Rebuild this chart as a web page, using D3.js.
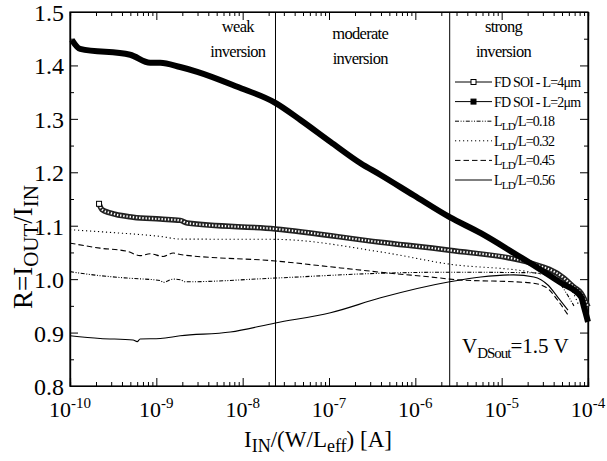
<!DOCTYPE html>
<html><head><meta charset="utf-8">
<script src="https://cdn.jsdelivr.net/npm/d3@7"></script>
<style>
body{margin:0;background:#fff}
svg{display:block}
text{font-family:"Liberation Serif","Times New Roman",serif;fill:#000}
</style>
</head><body>
<svg id="c" width="607" height="461"></svg>
<script>
// ---- data ----
const decadeTicks = [1e-10,1e-9,1e-8,1e-7,1e-6,1e-5,1e-4];
const decadeExps = ["-10","-9","-8","-7","-6","-5","-4"];
const yTicks = [0.8,0.9,1.0,1.1,1.2,1.3,1.4,1.5];
const yTickLabels = ["0.8","0.9","1.0","1.1","1.2","1.3","1.4","1.5"];
const regionBounds = [2.4e-8, 2.5e-6];
const regionNames = [["weak","inversion"],["moderate","inversion"],["strong","inversion"]];
const regionLabelX = [8.8e-9, 2.3e-7, 1.05e-5];

// FD SOI L=2um (filled squares)
const iL2 = [1.05e-10,1.31e-10,4.97e-10,8.48e-10,1.11e-9,1.89e-9,2.98e-9,8.67e-9,2.39e-8,4.67e-8,1.04e-7,2.32e-7,3.96e-7,9.57e-7,2.5e-6,5.73e-6,1.38e-5,2.63e-5,4.86e-5,8.3e-5,8.98e-5,1e-4];
const rL2 = [1.448,1.431,1.420,1.405,1.405,1.397,1.388,1.360,1.330,1.298,1.257,1.217,1.195,1.157,1.116,1.086,1.049,1.021,0.993,0.967,0.948,0.920];
// FD SOI L=4um (open squares)
const iL4 = [2.17e-10,2.35e-10,2.91e-10,5.38e-10,1.11e-9,1.89e-9,2.28e-9,2.39e-8,3.96e-7,2.5e-6,2.18e-5,5.26e-5,6.87e-5,8.3e-5,1e-4];
const rL4 = [1.141,1.130,1.124,1.116,1.1125,1.110,1.105,1.094,1.069,1.054,1.030,1.002,0.985,0.974,0.948];
// LLD/L = 0.18 (dash-dot-dot)
const i018 = [1e-10,1.85e-10,4.59e-10,1.11e-9,1.2e-9,1.57e-9,1.89e-9,2.16e-9,2.39e-8,3.96e-7,2.5e-6,2.18e-5,4.25e-5,5.55e-5,6.87e-5];
const r018 = [1.014,1.008,1.002,0.9975,0.994,1.0,0.999,0.995,1.002,1.011,1.013,1.012,1.0,0.975,0.95];
// LLD/L = 0.32 (dotted)
const i032 = [1e-10,2.91e-10,7.03e-10,1.11e-9,1.89e-9,2.39e-8,3.96e-7,2.5e-6,2.18e-5,4.86e-5,6.7e-5,7.86e-5];
const r032 = [1.0925,1.0875,1.083,1.080,1.075,1.0745,1.051,1.028,1.013,1.0,0.975,0.95];
// LLD/L = 0.45 (dashed)
const i045 = [1e-10,2.23e-10,4.59e-10,6.49e-10,8.48e-10,1.2e-9,1.57e-9,1.89e-9,2.39e-8,1.36e-7,5.17e-7,1.97e-6,2.5e-6,2.18e-5,3.25e-5,4.48e-5,5.86e-5];
const r045 = [1.0675,1.058,1.052,1.044,1.0475,1.0425,1.049,1.046,1.034,1.021,1.011,1.002,1.0,0.993,0.985,0.96,0.933];
// LLD/L = 0.56 (solid)
const i056 = [1e-10,2.23e-10,5.38e-10,6.0e-10,6.49e-10,1.11e-9,1.89e-9,7.19e-9,2.39e-8,1.04e-7,3.96e-7,2.5e-6,5.73e-6,1.38e-5,2.36e-5,3.43e-5,4.48e-5,5.86e-5];
const r056 = [0.894,0.889,0.886,0.883,0.888,0.889,0.894,0.901,0.918,0.937,0.965,0.995,1.004,1.008,1.004,0.989,0.966,0.942];

const legendLabels = ["FD SOI - L=4\u03bcm","FD SOI - L=2\u03bcm","0.18","0.32","0.45","0.56"];

// ---- drawing ----
const L = 70, R = 588, T = 12, B = 386;
const svg = d3.select("#c");
const x = d3.scaleLog().domain([1e-10,1e-4]).range([L,R]);
const y = d3.scaleLinear().domain([0.8,1.5]).range([B,T]);

const minorX = [];
for (let e = -10; e < -4; e++) for (let m = 2; m <= 9; m++) minorX.push(m*Math.pow(10,e));
const minorY = d3.range(0.85,1.5,0.1);

// axes (ticks inward)
const gAx = svg.append("g");
gAx.append("g").attr("transform",`translate(0,${B})`)
  .call(d3.axisBottom(x).tickValues(decadeTicks).tickSize(-8).tickFormat(""));
gAx.append("g").attr("transform",`translate(0,${B})`)
  .call(d3.axisBottom(x).tickValues(minorX).tickSize(-4).tickFormat(""));
gAx.append("g").attr("transform",`translate(0,${T})`)
  .call(d3.axisTop(x).tickValues(decadeTicks).tickSize(-8).tickFormat(""));
gAx.append("g").attr("transform",`translate(0,${T})`)
  .call(d3.axisTop(x).tickValues(minorX).tickSize(-4).tickFormat(""));
gAx.append("g").attr("transform",`translate(${L},0)`)
  .call(d3.axisLeft(y).tickValues(yTicks).tickSize(-8).tickFormat(""));
gAx.append("g").attr("transform",`translate(${L},0)`)
  .call(d3.axisLeft(y).tickValues(minorY).tickSize(-4).tickFormat(""));
gAx.append("g").attr("transform",`translate(${R},0)`)
  .call(d3.axisRight(y).tickValues(yTicks).tickSize(-8).tickFormat(""));
gAx.append("g").attr("transform",`translate(${R},0)`)
  .call(d3.axisRight(y).tickValues(minorY).tickSize(-4).tickFormat(""));
svg.selectAll(".domain").attr("stroke","#000").attr("stroke-width",1.2);
svg.selectAll(".tick line").attr("stroke","#000");
svg.append("rect").attr("x",L).attr("y",T).attr("width",R-L).attr("height",B-T)
  .attr("fill","none").attr("stroke","#000").attr("stroke-width",1.2);

// y tick labels
svg.append("g").selectAll("text").data(yTicks).join("text")
  .attr("x",L-6).attr("y",d=>y(d)+9).attr("text-anchor","end")
  .attr("font-size",24).text((d,i)=>yTickLabels[i]);

// x tick labels
const xl = svg.append("g").selectAll("text").data(decadeTicks).join("text")
  .attr("x",d=>x(d)).attr("y",417).attr("text-anchor","middle").attr("font-size",22);
xl.append("tspan").text("10");
xl.append("tspan").attr("dy",-9).attr("font-size",15).text((d,i)=>decadeExps[i]);

// axis titles
const xt = svg.append("text").attr("x",318).attr("y",447).attr("text-anchor","middle").attr("font-size",23);
xt.append("tspan").text("I");
xt.append("tspan").attr("dy",5).attr("font-size",18).text("IN");
xt.append("tspan").attr("dy",-5).text("/(W/L");
xt.append("tspan").attr("dy",5).attr("font-size",18).text("eff");
xt.append("tspan").attr("dy",-5).text(") [A]");

const yt = svg.append("text").attr("transform","translate(32,247) rotate(-90)")
  .attr("text-anchor","middle").attr("font-size",27);
yt.append("tspan").text("R=I");
yt.append("tspan").attr("dy",6).attr("font-size",21).text("OUT");
yt.append("tspan").attr("dy",-6).text("/I");
yt.append("tspan").attr("dy",6).attr("font-size",21).text("IN");

// region boundaries
svg.append("g").selectAll("line").data(regionBounds).join("line")
  .attr("x1",d=>x(d)).attr("x2",d=>x(d)).attr("y1",T).attr("y2",B)
  .attr("stroke","#000").attr("stroke-width",1);

// region labels
const regionY = [[32,57],[39,64],[32,57]];
regionNames.forEach((nm,i)=>{
  nm.forEach((s,j)=>{
    svg.append("text").attr("x",x(regionLabelX[i])).attr("y",regionY[i][j])
      .attr("text-anchor","middle").attr("font-size",16.5).attr("letter-spacing",-0.7).text(s);
  });
});

// series
const line = d3.line().x(d=>x(d[0])).y(d=>y(d[1])).curve(d3.curveMonotoneX);
const zip = (a,b)=>a.map((v,i)=>[v,b[i]]);
const thin = [
  {i:i018, r:r018, dash:"4,1.6,1,1.6,1,1.6"},
  {i:i032, r:r032, dash:"1.2,2.8"},
  {i:i045, r:r045, dash:"5.5,3"},
  {i:i056, r:r056, dash:null}
];
const gS = svg.append("g");
thin.forEach(s=>{
  gS.append("path").attr("d",line(zip(s.i,s.r))).attr("fill","none")
    .attr("stroke","#000").attr("stroke-width",1.1)
    .attr("stroke-dasharray",s.dash);
});
// L=4um open squares band
const p4 = line(zip(iL4,rL4));
gS.append("path").attr("d",p4).attr("fill","none").attr("stroke","#222").attr("stroke-width",5.5);
gS.append("path").attr("d",p4).attr("fill","none").attr("stroke","#fff").attr("stroke-width",2.2)
  .attr("stroke-dasharray","1.4,1.8");
gS.append("rect").attr("x",x(iL4[0])-2.5).attr("y",y(rL4[0])-2.5).attr("width",5).attr("height",5)
  .attr("fill","#fff").attr("stroke","#000").attr("stroke-width",1);
// L=2um filled squares
gS.append("path").attr("d",line(zip(iL2,rL2))).attr("fill","none").attr("stroke","#000").attr("stroke-width",6);

// legend
const lg = svg.append("g");
const ly0 = 82, ldy = 19.6, lx1 = 455, lx2 = 492;
const lDash = [null,null,"4,1.6,1,1.6,1,1.6","1.2,2.8","5.5,3",null];
legendLabels.forEach((lab,k)=>{
  const yy = ly0 + k*ldy;
  lg.append("line").attr("x1",lx1).attr("x2",lx2).attr("y1",yy).attr("y2",yy)
    .attr("stroke","#000").attr("stroke-width",1).attr("stroke-dasharray",lDash[k]);
  if (k<2) lg.append("rect").attr("x",(lx1+lx2)/2-2.5).attr("y",yy-2.5).attr("width",5).attr("height",5)
    .attr("fill",k===0?"#fff":"#000").attr("stroke","#000");
  const t = lg.append("text").attr("x",lx2+2).attr("y",yy+5).attr("font-size",14).attr("letter-spacing",-0.8);
  if (k<2) t.text(lab);
  else {
    t.append("tspan").text("L");
    t.append("tspan").attr("dy",4).attr("font-size",11).text("LD");
    t.append("tspan").attr("dy",-4).text("/L="+lab);
  }
});

// V_DSout annotation
const va = svg.append("text").attr("x",462).attr("y",353).attr("font-size",21);
va.append("tspan").text("V");
va.append("tspan").attr("dy",5).attr("font-size",15).attr("letter-spacing",-1).text("DSout");
va.append("tspan").attr("dy",-5).text("=1.5 V");
</script>
</body></html>
